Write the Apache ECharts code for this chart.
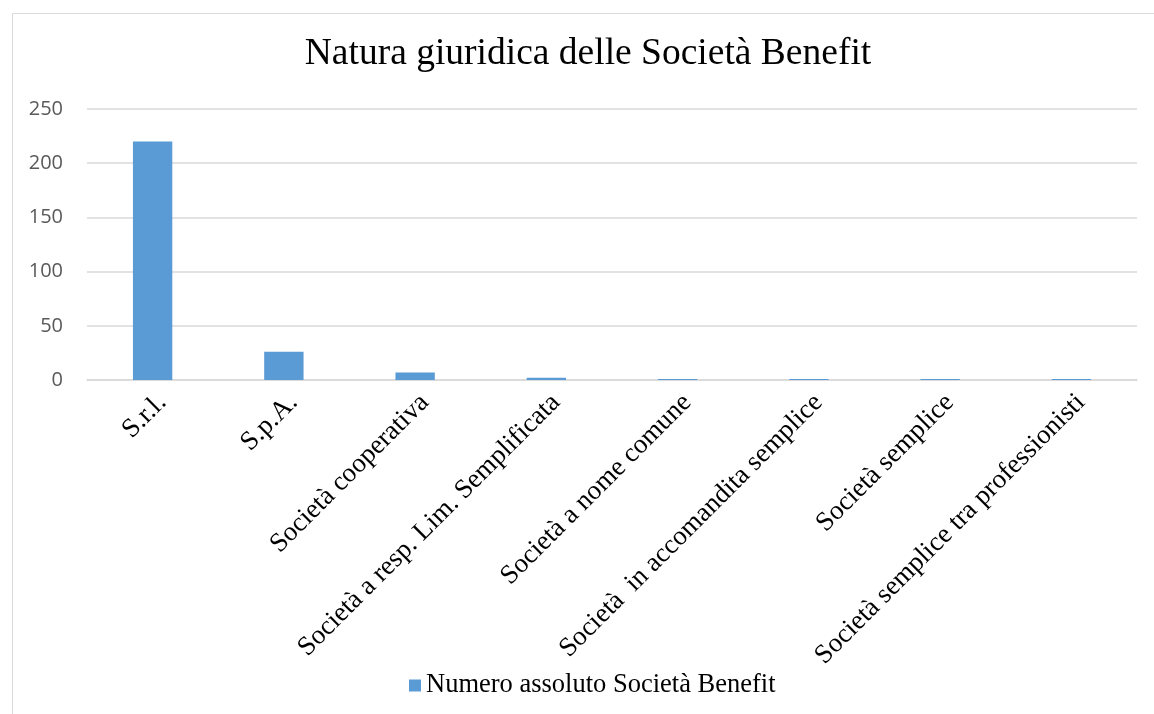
<!DOCTYPE html>
<html>
<head>
<meta charset="utf-8">
<script src="https://cdn.jsdelivr.net/npm/echarts@6/dist/echarts.min.js"></script>
<style>
html,body{margin:0;padding:0;background:#fff;}
#chart{width:1154px;height:714px;}
</style>
</head>
<body>
<div id="chart"></div>
<script>
const titleText = 'Natura giuridica delle Società Benefit';
const categories = ['S.r.l.', 'S.p.A.', 'Società cooperativa', 'Società a resp. Lim. Semplificata', 'Società a nome comune', 'Società  in accomandita semplice', 'Società semplice', 'Società semplice tra professionisti'];
const seriesName = 'Numero assoluto Società Benefit';
const values = [220, 26, 7, 2, 1, 1, 1, 1];
const yTicks = [0, 50, 100, 150, 200, 250];

const chart = echarts.init(document.getElementById('chart'));
chart.setOption({
  backgroundColor: '#fff',
  animation: false,
  graphic: [{
    type: 'rect', left: 10, top: 11, silent: true,
    shape: { x: 0, y: 0, width: 1200, height: 800 },
    style: { fill: 'none', stroke: '#d9d9d9', lineWidth: 1 }
  }],
  title: {
    text: titleText, left: 583, textAlign: 'center', top: 30,
    textStyle: { fontFamily: 'Liberation Serif', fontSize: 37.5, fontWeight: 'normal', color: '#000' }
  },
  legend: {
    bottom: 10, left: 404, itemWidth: 12, itemHeight: 12, icon: 'rect', itemGap: 8,
    textStyle: { fontFamily: 'Liberation Serif', fontSize: 26.5, color: '#000' },
    data: [seriesName]
  },
  grid: { left: 87, right: 17, top: 109, bottom: 334 },
  xAxis: {
    type: 'category', data: categories,
    axisLine: { lineStyle: { color: '#d9d9d9', width: 1.5 } },
    axisTick: { show: false },
    axisLabel: { rotate: 45, interval: 0, margin: 9, verticalAlign: 'top', fontFamily: 'Liberation Serif', fontSize: 27, color: '#000' }
  },
  yAxis: {
    type: 'value', min: yTicks[0], max: yTicks[yTicks.length - 1], interval: 50,
    axisLine: { show: false }, axisTick: { show: false },
    splitLine: { lineStyle: { color: '#d9d9d9', width: 1.5 } },
    axisLabel: { margin: 24, fontFamily: 'Open Sans', fontSize: 20, color: '#595959' }
  },
  series: [{
    name: seriesName, type: 'bar', data: values, barWidth: '30%',
    itemStyle: { color: '#5B9BD5' }
  }]
});
</script>
</body>
</html>
